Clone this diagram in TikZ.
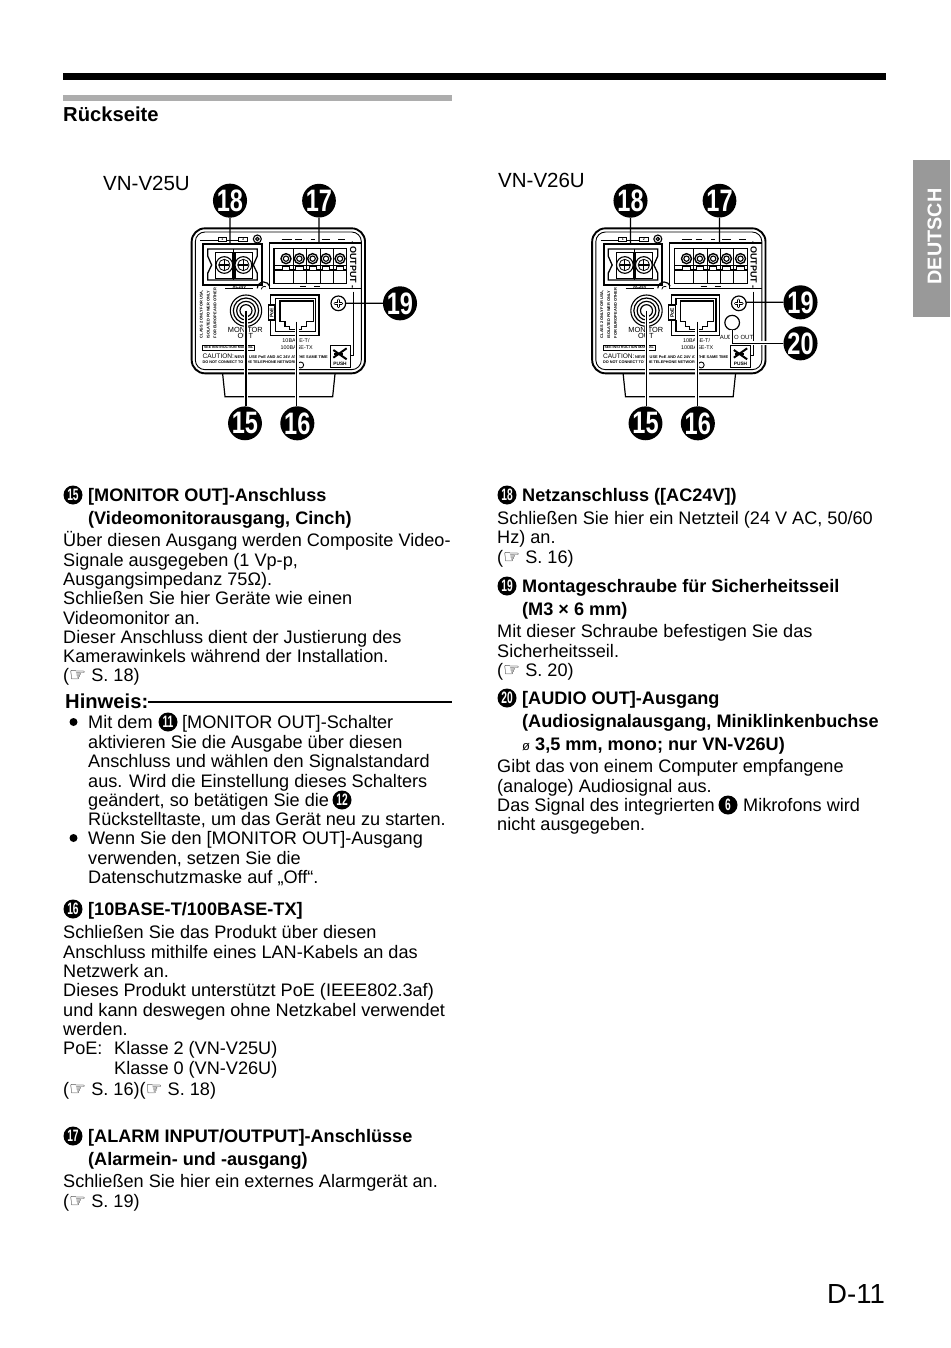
\documentclass[tikz,border=0pt]{standalone}
\usepackage{fontspec}
\usepackage{graphicx}
\setmainfont{Liberation Sans}
\newfontfamily\djv{DejaVu Sans}
\newcounter{tlc}
\tikzset{x=1pt,y=-1pt,
 txt/.style={anchor=base west,inner sep=0pt,font=\fontsize{18.12}{20}\selectfont},
 btxt/.style={txt,font=\fontsize{18.12}{20}\selectfont\bfseries},
 badge/.style={circle,fill=black,text=white,inner sep=0pt,minimum size=19pt,font=\fontsize{16.5}{17}\selectfont\bfseries},
 bigbadge/.style={circle,fill=black,text=white,inner sep=0pt,minimum size=31pt,font=\fontsize{31}{31}\selectfont\bfseries},
 cam/.style={line width=1.1pt},
 thin1/.style={line width=.8pt},
 lead/.style={line width=1.2pt},
 halo/.style={line width=4pt,white},
}
\newcommand{\tl}[3]{\stepcounter{tlc}\node[txt] (t\thetlc) at (#1,#2) {#3};}
\newcommand{\tb}[3]{\stepcounter{tlc}\node[btxt] (t\thetlc) at (#1,#2) {#3};}
\newcommand{\bdg}[3]{\stepcounter{tlc}\node[badge] (t\thetlc) at (#1,#2) {\scalebox{.62}[1]{#3}};}
\newcommand{\hand}{{\djv\bfseries\fontsize{19}{19}\selectfont ☞}}
\newcommand{\screwx}[4]{%
 \draw[line width=1.2pt,fill=white] (#1,#2) circle (#3);
 \draw[line width=2.8pt,line cap=round] (#1-#4,#2) -- (#1+#4,#2) (#1,#2-#4) -- (#1,#2+#4);
 \draw[line width=1.1pt,white,line cap=round] (#1-#4,#2) -- (#1+#4,#2) (#1,#2-#4) -- (#1,#2+#4);}
\newcommand{\tscrew}[2]{%
 \draw[line width=1.1pt,fill=white] (#1,#2) circle (25);
 \draw[line width=.8pt] (#1,#2) circle (17);
 \draw[line width=1.3pt] (#1-15,#2) -- (#1+15,#2) (#1,#2-15) -- (#1,#2+15);}
\newcommand{\camera}[3]{%
 \begin{scope}[shift={(#1,#2)},scale=1/3]
 % body
 \draw[line width=1.9pt] (65,215) arc (180:270:40) -- (545,175) arc (-90:0:40) -- (585,570) arc (0:90:40) -- (105,610) arc (90:180:40) -- cycle;
 \draw[line width=.9pt] (76,215) arc (180:270:29) -- (545,186) arc (-90:0:29) -- (574,570) arc (0:90:29) -- (105,599) arc (90:180:29) -- cycle;
 \draw[line width=1.2pt] (158,612) -- (165,680) -- (488,680) -- (495,612);
 % power terminal
 \draw[line width=2pt] (100,222) rectangle (275,345);
 \draw[line width=1.3pt] (113,237) -- (262,237) -- (262,258) -- (250,285) -- (262,310) -- (262,330) -- (113,330) -- (113,310) -- (125,285) -- (113,258) -- cycle;
 \draw[line width=1.2pt] (137,248) rectangle (188,325) (195,248) rectangle (247,325);
 \draw[thin1] (191.5,237) -- (191.5,330);
 \tscrew{163}{285}
 \tscrew{220}{285}
 \draw[thin1] (90,212) -- (145,212) (170,212) -- (205,212);
 \node[draw,thin1,inner sep=.6pt,minimum width=8pt,font=\fontsize{3.5}{4}\selectfont\bfseries] (#3p1) at (157,209) {1};
 \node[draw,thin1,inner sep=.6pt,minimum width=9pt,font=\fontsize{3.5}{4}\selectfont\bfseries] (#3p2) at (220,209) {2};
 \draw[line width=1.1pt] (262,207) circle (12);
 \draw[line width=1.1pt] (262,207) circle (5);
 \node[inner sep=0pt,font=\fontsize{4.2}{5}\selectfont\bfseries] (#3ac) at (208,350) {AC24V};
 \draw[line width=.9pt] (165,356) -- (250,356);
 % alarm terminal
 \draw[line width=1.1pt] (574,219) -- (298,219) -- (298,355) -- (574,355);
 \draw[line width=1.3pt] (312,236) rectangle (530,341);
 \foreach \xx in {370,410,450,490} \draw[line width=.9pt] (\xx,236) -- (\xx,341);
 \draw[line width=1.2pt] (312,300) -- (530,300);
 \draw[line width=.8pt] (312,286) -- (530,286);
 \foreach \xx in {348,388,428,468,510} {
  \draw[line width=1.4pt,fill=white] (\xx,266) circle (15);
  \draw[line width=1.1pt] (\xx,266) circle (8);
  \draw[line width=.9pt,fill=white] (\xx-11,288) rectangle (\xx+11,300);
 }
 \draw[line width=1.1pt] (335,209) -- (365,209) (375,208) -- (395,208) (422,208) -- (434,208) (455,208) -- (480,208) (505,208) -- (525,208);
 \draw[line width=.9pt,dash pattern=on 6pt off 8pt] (390,348) -- (465,348);
 \node[inner sep=0pt,rotate=-90,font=\fontsize{9}{9}\selectfont\bfseries] (#3out) at (550,285) {- OUTPUT -};
 % side lines
 \draw[thin1] (550,365) -- (550,555) -- (540,555);
 % arc
 \draw[line width=1.2pt] (262,355) arc (180:340:19);
 \draw[thin1] (274,358) arc (180:300:9);
 % monitor
 \foreach \rr/\ww in {47/1.1,38/1.2,28/1.2,18/1.2} \draw[line width=\ww pt] (228,422) circle (\rr);
 % rj45
 \draw[line width=1.1pt] (302,405) -- (302,375) -- (447,375) -- (447,497) -- (302,497) -- (302,450);
 \draw[line width=1.5pt] (317,405) -- (317,386) -- (437,386) -- (437,485) -- (317,485) -- (317,450);
 \draw[line width=1.3pt] (330,393) -- (430,393) -- (430,455) -- (410,455) -- (410,470) -- (395,470) -- (395,478) -- (358,478) -- (358,470) -- (345,470) -- (345,455) -- (330,455) -- cycle;
 \draw[line width=1.2pt,fill=white] (295,405) rectangle (315,450);
 \node[inner sep=0pt,rotate=90,font=\fontsize{5}{5}\selectfont\bfseries] (#3poe) at (305,428) {PoE};
 % screw
 \screwx{505}{400}{22}{10}
 % left texts
 \node[inner sep=0pt,rotate=90,font=\fontsize{3.9}{5}\selectfont\bfseries,anchor=west] (#3r1) at (95,505) {CLASS 2 ONLY FOR USA,};
 \node[inner sep=0pt,rotate=90,font=\fontsize{3.9}{5}\selectfont\bfseries,anchor=west] (#3r2) at (115,505) {ISOLATED POWER ONLY};
 \node[inner sep=0pt,rotate=90,font=\fontsize{3.9}{5}\selectfont\bfseries,anchor=west] (#3r3) at (135,505) {FOR EUROPE AND OTHER};
 \node[draw,line width=1pt,inner sep=1.2pt,font=\fontsize{3.6}{5}\selectfont\bfseries,anchor=west] (#3s) at (97,533) {SEE INSTRUCTION MANUAL};
 \draw[line width=.9pt] (392,585) circle (9);
 \node[inner sep=0pt,anchor=base,font=\fontsize{7.4}{8}\selectfont] (#3m1) at (226,488) {MONITOR};
 \node[inner sep=0pt,anchor=base,font=\fontsize{7.4}{8}\selectfont] (#3m2) at (226,505) {OUT};
 \node[inner sep=0pt,anchor=base,font=\fontsize{5.4}{6}\selectfont] (#3l1) at (378,519) {10BASE-T/};
 \node[inner sep=0pt,anchor=base,font=\fontsize{5.4}{6}\selectfont] (#3l2) at (380,540) {100BASE-TX};
 \node[inner sep=0pt,anchor=base west,font=\fontsize{6.6}{7}\selectfont] (#3c1) at (97,565) {CAUTION:\fontsize{3.9}{4}\selectfont\bfseries\,NEVER USE PoE AND AC 24V AT THE SAME TIME};
 \node[inner sep=0pt,anchor=base west,font=\fontsize{3.8}{4}\selectfont\bfseries] (#3c2) at (97,582) {DO NOT CONNECT TO THE TELEPHONE NETWORK};
 % push tab
 \draw[line width=1pt] (480,527) rectangle (540,592);
 \draw[line width=2pt] (490,540) -- (530,568);
 \draw[line width=2pt] (490,563) -- (530,535);
 \draw[line width=1.4pt] (492,552) -- (520,552);
 \node[inner sep=0pt,font=\fontsize{4.8}{5}\selectfont\bfseries] (#3pu) at (510,582) {PUSH};
 % badges and leaders
 \coordinate (#3a15) at (228,422); \coordinate (#3a16) at (380,455);
 \coordinate (#3a18) at (180,222); \coordinate (#3a17) at (447,219);
 \node[bigbadge] (#3b18) at (180,92) {\scalebox{.76}[1]{18}};
 \node[bigbadge] (#3b17) at (447,92) {\scalebox{.76}[1]{17}};
 \node[bigbadge] (#3b15) at (225,760) {\scalebox{.76}[1]{15}};
 \node[bigbadge] (#3b16) at (382,760) {\scalebox{.76}[1]{16}};
 \draw[halo] (#3a15) -- (#3a15 |- #3b15.north);
 \draw[halo] (#3a16) -- (#3a16 |- #3b16.north);
 \draw[lead] (#3a15) -- (#3a15 |- #3b15.north);
 \draw[lead] (#3a16) -- (#3a16 |- #3b16.north);
 \draw[lead] (#3b18) -- (#3a18);
 \draw[lead] (#3b17) -- (#3a17);
 \end{scope}
}
\begin{document}
\begin{tikzpicture}
\useasboundingbox (0,0) rectangle (950,1348);
\fill[white] (0,0) rectangle (950,1348);
\fill[black] (63,73) rectangle (886,80);
\fill[black!32] (63,95) rectangle (452,101);
\fill[black!40] (913,160) rectangle (950,317);
\node[inner sep=0pt,rotate=90,text=white,font=\fontsize{19.8}{20}\selectfont\bfseries] (tab) at (934.5,236.5) {DEUTSCH};
\node[btxt,font=\fontsize{20.2}{20}\selectfont\bfseries] (ti) at (63,121.5) {Rückseite};
\node[txt,font=\fontsize{20.5}{20}\selectfont] (v25) at (103,191) {VN-V25U};
\node[txt,font=\fontsize{20.5}{20}\selectfont] (v26) at (498,188) {VN-V26U};

% ---------- left camera
\camera{170}{170}{u}
\begin{scope}[shift={(170,170)},scale=1/3]
 \coordinate (a19) at (527,400);
 \node[bigbadge] (b19) at (690,400) {\scalebox{.76}[1]{19}};
 \draw[lead] (b19) -- (a19);
\end{scope}

% ---------- right camera
\camera{570.5}{170}{v}
\begin{scope}[shift={(570.5,170)},scale=1/3]
 \draw[line width=1.2pt,fill=white] (485,458) circle (22);
 \node[inner sep=0pt,anchor=base,font=\fontsize{6}{6}\selectfont] (au) at (498,510) {AUDIO OUT};
 \coordinate (e19) at (527,397);
 \coordinate (e20) at (485,480);
 \node[bigbadge] (c19) at (690,397) {\scalebox{.76}[1]{19}};
 \node[bigbadge] (c20) at (690,520) {\scalebox{.76}[1]{20}};
 \draw[halo] (e20) |- (c20);
 \draw[lead] (c19) -- (e19);
 \draw[lead] (e20) |- (c20);
\end{scope}

% ---------- left column
\bdg{73}{495}{15}
\tb{88}{501}{[MONITOR OUT]-Anschluss}
\tb{88}{524}{(Videomonitorausgang, Cinch)}
\tl{63}{546}{Über diesen Ausgang werden Composite Video-}
\tl{63}{566}{Signale ausgegeben (1 Vp-p,}
\tl{63}{585}{Ausgangsimpedanz 75Ω).}
\tl{63}{604}{Schließen Sie hier Geräte wie einen}
\tl{63}{624}{Videomonitor an.}
\tl{63}{643}{Dieser Anschluss dient der Justierung des}
\tl{63}{662}{Kamerawinkels während der Installation.}
\tl{63}{681}{(\hand\ S. 18)}
\node[btxt,font=\fontsize{20.2}{20}\selectfont\bfseries] (hw) at (65,708) {Hinweis:};
\coordinate (hwe) at (452,702);
\draw[line width=1.5pt] (hw.east |- hwe) -- (hwe);
\fill (73.5,722) circle (4pt) (73.5,838) circle (4pt);
\tl{88}{728}{Mit dem}
\bdg{168}{722}{11}
\tl{182}{728}{[MONITOR OUT]-Schalter}
\tl{88}{748}{aktivieren Sie die Ausgabe über diesen}
\tl{88}{767}{Anschluss und wählen den Signalstandard}
\tl{88}{787}{aus. Wird die Einstellung dieses Schalters}
\tl{88}{806}{geändert, so betätigen Sie die}
\bdg{342}{800}{12}
\tl{88}{825}{Rückstelltaste, um das Gerät neu zu starten.}
\tl{88}{844}{Wenn Sie den [MONITOR OUT]-Ausgang}
\tl{88}{864}{verwenden, setzen Sie die}
\tl{88}{883}{Datenschutzmaske auf „Off“.}
\bdg{73}{909}{16}
\tb{88}{915}{[10BASE-T/100BASE-TX]}
\tl{63}{938}{Schließen Sie das Produkt über diesen}
\tl{63}{958}{Anschluss mithilfe eines LAN-Kabels an das}
\tl{63}{977}{Netzwerk an.}
\tl{63}{996}{Dieses Produkt unterstützt PoE (IEEE802.3af)}
\tl{63}{1016}{und kann deswegen ohne Netzkabel verwendet}
\tl{63}{1035}{werden.}
\tl{63}{1054}{PoE:}
\tl{114}{1054}{Klasse 2 (VN-V25U)}
\tl{114}{1074}{Klasse 0 (VN-V26U)}
\tl{63}{1095}{(\hand\ S. 16)(\hand\ S. 18)}
\bdg{73}{1136}{17}
\tb{88}{1142}{[ALARM INPUT/OUTPUT]-Anschlüsse}
\tb{88}{1165}{(Alarmein- und -ausgang)}
\tl{63}{1187}{Schließen Sie hier ein externes Alarmgerät an.}
\tl{63}{1207}{(\hand\ S. 19)}

% ---------- right column
\bdg{507}{495}{18}
\tb{522}{501}{Netzanschluss ([AC24V])}
\tl{497}{524}{Schließen Sie hier ein Netzteil (24 V AC, 50/60}
\tl{497}{543}{Hz) an.}
\tl{497}{563}{(\hand\ S. 16)}
\bdg{507}{586}{19}
\tb{522}{592}{Montageschraube für Sicherheitsseil}
\tb{522}{615}{(M3 × 6 mm)}
\tl{497}{637}{Mit dieser Schraube befestigen Sie das}
\tl{497}{657}{Sicherheitsseil.}
\tl{497}{676}{(\hand\ S. 20)}
\bdg{507}{698}{20}
\tb{522}{704}{[AUDIO OUT]-Ausgang}
\tb{522}{727}{(Audiosignalausgang, Miniklinkenbuchse}
\tb{522}{750}{{\mdseries\fontsize{13}{13}\selectfont ø} 3,5 mm, mono; nur VN-V26U)}
\tl{497}{772}{Gibt das von einem Computer empfangene}
\tl{497}{792}{(analoge) Audiosignal aus.}
\tl{497}{811}{Das Signal des integrierten}
\bdg{728}{805}{6}
\tl{743}{811}{Mikrofons wird}
\tl{497}{830}{nicht ausgegeben.}
\node[txt,font=\fontsize{27.6}{27}\selectfont] (pg) at (827,1303) {D-11};
\end{tikzpicture}
\end{document}
